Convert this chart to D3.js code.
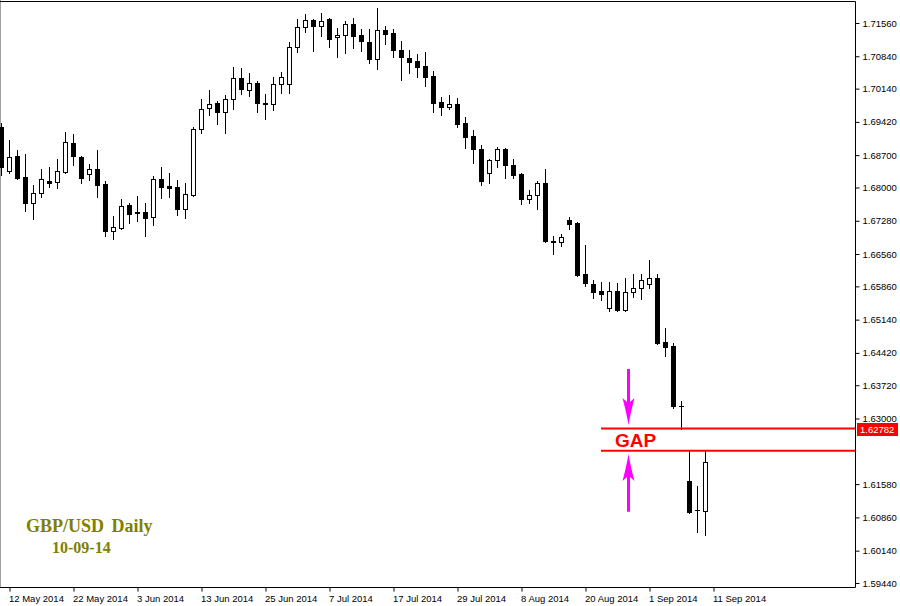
<!DOCTYPE html>
<html>
<head>
<meta charset="utf-8">
<script src="https://cdn.jsdelivr.net/npm/d3@7"></script>
<style>
  html, body { margin: 0; padding: 0; background: #fff; }
  svg { display: block; }
</style>
</head>
<body>
<svg id="chart" width="900" height="606"></svg>
<script>
// ---------- data ----------
const firstDate = "2014-05-09";
const lastDate = "2014-09-10";
const opens = [
  1.6931,1.6836,1.6868,1.6823,1.6766,1.6788,1.6814,1.6812,1.6833,1.6896,
  1.6866,1.6829,1.6840,1.6807,1.6706,1.6712,1.6762,1.6747,1.6747,1.6736,
  1.6818,1.6803,1.6801,1.6753,1.6784,1.6927,1.6972,1.6983,1.6963,1.6992,
  1.7037,1.7011,1.7026,1.6983,1.6981,1.7024,1.7024,1.7104,1.7147,1.7162,
  1.7150,1.7165,1.7126,1.7130,1.7154,1.7130,1.7115,1.7078,1.7141,1.7134,
  1.7098,1.7080,1.7074,1.7063,1.7041,1.6985,1.6974,1.6981,1.6940,1.6911,
  1.6883,1.6831,1.6859,1.6883,1.6849,1.6829,1.6775,1.6784,1.6809,1.6684,
  1.6682,1.6729,1.6723,1.6613,1.6591,1.6576,1.6539,1.6576,1.6534,1.6573,
  1.6582,1.6591,1.6604,1.6465,1.6456,1.6326,1.6165,1.6101,1.6100
];
const highs = [
  1.6940,1.6903,1.6881,1.6872,1.6805,1.6840,1.6844,1.6861,1.6920,1.6916,
  1.6869,1.6851,1.6881,1.6814,1.6738,1.6775,1.6766,1.6781,1.6766,1.6825,
  1.6844,1.6831,1.6816,1.6809,1.6931,1.6992,1.7011,1.6987,1.7000,1.7061,
  1.7059,1.7048,1.7030,1.7002,1.7039,1.7050,1.7115,1.7165,1.7175,1.7165,
  1.7178,1.7166,1.7145,1.7160,1.7167,1.7143,1.7143,1.7188,1.7150,1.7143,
  1.7117,1.7098,1.7089,1.7093,1.7052,1.6996,1.7000,1.6994,1.6953,1.6924,
  1.6892,1.6861,1.6888,1.6885,1.6861,1.6831,1.6794,1.6814,1.6840,1.6695,
  1.6699,1.6736,1.6725,1.6676,1.6599,1.6595,1.6595,1.6593,1.6604,1.6613,
  1.6613,1.6643,1.6613,1.6495,1.6463,1.6338,1.6230,1.6154,1.6230
];
const lows = [
  1.6827,1.6831,1.6818,1.6749,1.6732,1.6779,1.6801,1.6799,1.6831,1.6849,
  1.6809,1.6816,1.6779,1.6695,1.6689,1.6710,1.6723,1.6727,1.6695,1.6719,
  1.6777,1.6779,1.6740,1.6734,1.6781,1.6918,1.6957,1.6937,1.6918,1.6970,
  1.7002,1.6998,1.6963,1.6948,1.6968,1.7004,1.7004,1.7093,1.7137,1.7095,
  1.7128,1.7104,1.7082,1.7091,1.7102,1.7095,1.7069,1.7056,1.7111,1.7082,
  1.7033,1.7048,1.7039,1.7020,1.6963,1.6957,1.6970,1.6931,1.6885,1.6853,
  1.6805,1.6809,1.6844,1.6820,1.6820,1.6764,1.6766,1.6753,1.6682,1.6656,
  1.6673,1.6710,1.6608,1.6586,1.6560,1.6556,1.6532,1.6533,1.6532,1.6563,
  1.6558,1.6582,1.6461,1.6435,1.6323,1.62782,1.6095,1.6054,1.6048
];
const closes = [
  1.6844,1.6866,1.6820,1.6766,1.6788,1.6818,1.6809,1.6836,1.6898,1.6868,
  1.6820,1.6840,1.6805,1.6706,1.6714,1.6760,1.6742,1.6745,1.6734,1.6818,
  1.6801,1.6799,1.6753,1.6786,1.6927,1.6970,1.6981,1.6963,1.6992,1.7037,
  1.7013,1.7026,1.6983,1.6981,1.7024,1.7039,1.7104,1.7147,1.7162,1.7150,
  1.7160,1.7121,1.7130,1.7154,1.7128,1.7117,1.7078,1.7141,1.7132,1.7098,
  1.7082,1.7072,1.7061,1.7039,1.6983,1.6974,1.6981,1.6937,1.6909,1.6883,
  1.6814,1.6859,1.6883,1.6849,1.6827,1.6775,1.6784,1.6809,1.6684,1.6682,
  1.6693,1.6721,1.6610,1.6593,1.6573,1.6569,1.6576,1.6534,1.6573,1.6582,
  1.6599,1.6604,1.6463,1.6454,1.6327,1.6326,1.6098,1.6101,1.6206
];
const xTickDates = ["2014-05-12","2014-05-22","2014-06-03","2014-06-13","2014-06-25",
  "2014-07-07","2014-07-17","2014-07-29","2014-08-08","2014-08-20","2014-09-01","2014-09-11"];
const yTickLabels = ["1.71560","1.70840","1.70140","1.69420","1.68700","1.68000","1.67280",
  "1.66560","1.65860","1.65140","1.64420","1.63720","1.63000","1.61580","1.60860","1.60140","1.59440"];
const gapTop = 1.62782;
const gapBottom = 1.6230;
const gapStartDate = "2014-08-22";
const arrowDate = "2014-08-27";
const arrowDown = [1.6407, 1.6286];   // tail, tip
const arrowUp = [1.6098, 1.6223];     // tail, tip
const titleText = "GBP/USD Daily";
const subTitleText = "10-09-14";

// ---------- categories: trading days ----------
const parse = d3.utcParse("%Y-%m-%d");
const fmtKey = d3.utcFormat("%Y-%m-%d");
const allDays = d3.utcDay.range(parse(firstDate), d3.utcDay.offset(parse(lastDate), 1));
const dates = allDays.filter(d => d.getUTCDay() !== 0 && d.getUTCDay() !== 6).map(fmtKey);
dates.push("2014-09-11"); // empty slot for the next (future) bar label
const bars = dates.slice(0, opens.length).map((d, i) => ({
  date: d, o: opens[i], h: highs[i], l: lows[i], c: closes[i]
}));

// ---------- layout ----------
const plotRight = 855, plotBottom = 587;
const SANS = "'Liberation Sans', Arial, sans-serif";
const SERIF = "'Liberation Serif', 'Times New Roman', serif";
const svg = d3.select("#chart");

const x = d3.scalePoint().domain(dates).range([1, 713]);
const y = d3.scaleLinear().domain([1.5944, 1.7156]).range([583, 23]);

// frame
svg.append("line").attr("x1", 0.5).attr("x2", 0.5).attr("y1", 0).attr("y2", plotBottom)
  .attr("stroke", "#a0a0a0");
svg.append("path")
  .attr("d", `M0,1.5H${plotRight + 0.5}V${plotBottom + 0.5}H0`)
  .attr("fill", "none").attr("stroke", "#000");

// candles
const g = svg.append("g");
bars.forEach(b => {
  const cx = Math.round(x(b.date));
  const yH = Math.round(y(b.h)), yL = Math.round(y(b.l));
  const top = Math.round(y(Math.max(b.o, b.c))), bot = Math.round(y(Math.min(b.o, b.c)));
  g.append("line").attr("x1", cx + 0.5).attr("x2", cx + 0.5)
    .attr("y1", yH).attr("y2", yL + 1).attr("stroke", "#000").attr("stroke-width", 1);
  if (bot - top < 1) {
    g.append("line").attr("x1", cx - 2).attr("x2", cx + 3)
      .attr("y1", top + 0.5).attr("y2", top + 0.5).attr("stroke", "#000");
  } else if (b.c < b.o) {
    g.append("rect").attr("x", cx - 2).attr("width", 5)
      .attr("y", top).attr("height", bot - top + 1).attr("fill", "#000");
  } else {
    g.append("rect").attr("x", cx - 1.5).attr("width", 4)
      .attr("y", top + 0.5).attr("height", bot - top)
      .attr("fill", "#fff").attr("stroke", "#000").attr("stroke-width", 1);
  }
});

// right price axis
const yAxis = d3.axisRight(y)
  .tickValues(yTickLabels.map(Number))
  .tickSize(4).tickPadding(3)
  .tickFormat((d, i) => yTickLabels[i]);
const ya = svg.append("g").attr("transform", `translate(${plotRight + 0.5},0)`).call(yAxis);
ya.select(".domain").remove();
ya.selectAll("line").attr("stroke", "#000");
ya.selectAll("text").style("font-size", "9.5px").style("font-family", SANS).attr("fill", "#000");

// bottom time axis
const dispFmt = d3.utcFormat("%-d %b %Y");
const xAxis = d3.axisBottom(x).tickValues(xTickDates).tickSize(4).tickPadding(4)
  .tickFormat(d => dispFmt(parse(d)));
const xa = svg.append("g").attr("transform", `translate(0.5,${plotBottom + 0.5})`).call(xAxis);
xa.select(".domain").remove();
xa.selectAll("line").attr("stroke", "#000");
xa.selectAll("text").style("font-size", "9.5px").style("font-family", SANS).attr("fill", "#000")
  .attr("text-anchor", "start").attr("x", -1).attr("dy", "0.71em");

// gap lines
const gx0 = Math.round(x(gapStartDate));
[gapTop, gapBottom].forEach(p => {
  svg.append("line").attr("x1", gx0).attr("x2", plotRight)
    .attr("y1", y(p)).attr("y2", y(p)).attr("stroke", "#ff0000").attr("stroke-width", 2);
});
// price label of the gap top line
svg.append("rect").attr("x", plotRight + 2).attr("y", Math.round(y(gapTop)) - 6)
  .attr("width", 41).attr("height", 13).attr("fill", "#ff0000");
svg.append("text").attr("x", plotRight + 5).attr("y", Math.round(y(gapTop)) + 4)
  .style("font-size", "9.5px").style("font-family", SANS).attr("fill", "#fff").text(gapTop.toFixed(5));

// GAP text
svg.append("text").attr("x", gx0 + 14).attr("y", (y(gapTop) + y(gapBottom)) / 2 + 7)
  .style("font-family", SANS).style("font-weight", "bold")
  .style("font-size", "19px").attr("fill", "#ff0000").text("GAP");

// magenta arrows
function arrow(px, yTail, yTip) {
  const dir = yTip > yTail ? 1 : -1;
  const headLen = 27, half = 6, sh = 1.5;
  const yb = yTip - dir * headLen;
  const d = `M${px - sh},${yTail} L${px - sh},${yb + dir * 4} L${px - half},${yb}
    Q${px - 2},${yTip - dir * 12} ${px},${yTip}
    Q${px + 2},${yTip - dir * 12} ${px + half},${yb}
    L${px + sh},${yb + dir * 4} L${px + sh},${yTail} Z`;
  svg.append("path").attr("d", d).attr("fill", "#ff00ff");
}
const ax = Math.round(x(arrowDate)) + 3.5;
arrow(ax, y(arrowDown[0]), y(arrowDown[1]));
arrow(ax, y(arrowUp[0]), y(arrowUp[1]));

// title
svg.append("text").attr("x", 26).attr("y", 532)
  .style("font-family", SERIF).style("font-weight", "bold")
  .style("font-size", "18px").style("word-spacing", "3px").attr("fill", "#808000").text(titleText);
svg.append("text").attr("x", 52).attr("y", 553)
  .style("font-family", SERIF).style("font-weight", "bold")
  .style("font-size", "16px").attr("fill", "#808000").text(subTitleText);
</script>
</body>
</html>
